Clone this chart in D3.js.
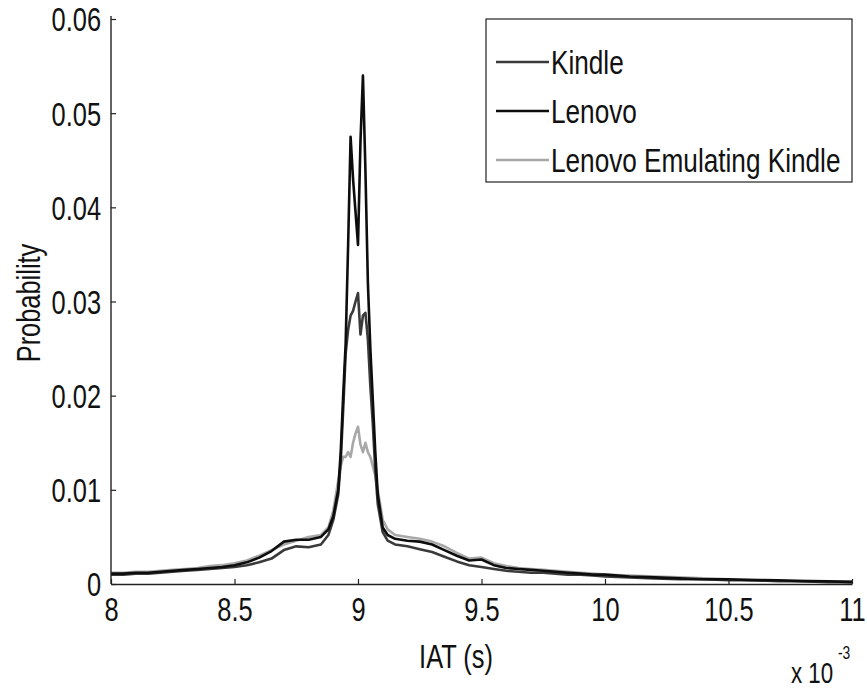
<!DOCTYPE html>
<html>
<head>
<meta charset="utf-8">
<script src="https://cdn.jsdelivr.net/npm/d3@7"></script>
<style>
  html, body { margin: 0; padding: 0; background: #fff; }
  svg text { font-family: "Liberation Sans", Arial, sans-serif; fill: #111; }
</style>
</head>
<body>
<svg id="chart" width="867" height="690"></svg>
<script>
// IAT in units of 1e-3 s
const iat = [8.00,8.05,8.10,8.15,8.20,8.25,8.30,8.35,8.40,8.45,8.50,8.55,8.60,8.65,8.70,8.75,8.80,8.85,8.88,
  8.90,8.92,8.93,8.94,8.95,8.96,8.97,8.98,8.99,9.00,9.01,9.02,9.03,9.04,9.05,9.06,9.07,9.08,9.10,9.12,
  9.15,9.20,9.25,9.30,9.35,9.40,9.45,9.50,9.55,9.60,9.65,9.70,9.75,9.80,9.85,9.90,9.95,10.00,
  10.10,10.20,10.30,10.40,10.50,10.60,10.70,10.80,10.90,11.00];

const kindle = [0.0010,0.0010,0.0011,0.0011,0.0012,0.0013,0.0014,0.0015,0.0016,0.0017,0.0018,0.0020,0.0023,0.0027,0.0036,0.0040,0.0039,0.0042,0.0052,
  0.0068,0.0095,0.0130,0.0185,0.0245,0.0270,0.0285,0.0290,0.0300,0.0309,0.0265,0.0285,0.0288,0.0260,0.0210,0.0170,0.0120,0.0085,0.0055,0.0046,
  0.0042,0.0040,0.0037,0.0034,0.0029,0.0024,0.0020,0.0018,0.0016,0.0014,0.0013,0.0012,0.0012,0.0011,0.0010,0.0010,0.0009,0.0008,
  0.0007,0.0006,0.0005,0.0005,0.0004,0.0004,0.0003,0.0003,0.0002,0.0002];

const lenovo = [0.0011,0.0011,0.0012,0.0012,0.0013,0.0014,0.0015,0.0016,0.0017,0.0018,0.0020,0.0023,0.0028,0.0035,0.0045,0.0047,0.0047,0.0050,0.0058,
  0.0072,0.0100,0.0140,0.0200,0.0255,0.0360,0.0475,0.0430,0.0395,0.0360,0.0470,0.0540,0.0440,0.0320,0.0250,0.0195,0.0140,0.0095,0.0060,0.0052,
  0.0048,0.0046,0.0045,0.0042,0.0036,0.0030,0.0025,0.0026,0.0020,0.0017,0.0016,0.0015,0.0014,0.0013,0.0012,0.0011,0.0010,0.0010,
  0.0008,0.0007,0.0006,0.0005,0.0005,0.0004,0.0004,0.0003,0.0003,0.0002];

const emulating = [0.0012,0.0012,0.0013,0.0013,0.0014,0.0015,0.0016,0.0017,0.0019,0.0020,0.0022,0.0025,0.0030,0.0036,0.0042,0.0046,0.0050,0.0052,0.0060,
  0.0078,0.0110,0.0125,0.0135,0.0135,0.0140,0.0135,0.0150,0.0160,0.0167,0.0148,0.0140,0.0150,0.0140,0.0135,0.0125,0.0115,0.0100,0.0068,0.0058,
  0.0052,0.0050,0.0048,0.0045,0.0040,0.0033,0.0027,0.0028,0.0022,0.0019,0.0017,0.0016,0.0015,0.0014,0.0013,0.0012,0.0011,0.0010,
  0.0009,0.0008,0.0007,0.0006,0.0005,0.0005,0.0004,0.0004,0.0003,0.0003];

const seriesNames = ["Kindle", "Lenovo", "Lenovo Emulating Kindle"];
const seriesColors = ["#3a3a3a", "#0d0d0d", "#a8a8a8"];
const xTicks = [8, 8.5, 9, 9.5, 10, 10.5, 11];
const yTicks = [0, 0.01, 0.02, 0.03, 0.04, 0.05, 0.06];

const svg = d3.select("#chart");
const pLeft = 111, pRight = 852, pTop = 19, pBottom = 584;
const sx = 0.77;  // horizontal text compression
const fs = 33;

const x = d3.scaleLinear().domain([8, 11]).range([pLeft, pRight]);
const y = d3.scaleLinear().domain([0, 0.06]).range([pBottom, pTop]);

// curves (light first so dark lines sit on top)
const allSeries = [kindle, lenovo, emulating];
const drawOrder = [2, 0, 1];
const line = d3.line().x((d, i) => x(iat[i])).y(d => y(d));
drawOrder.forEach(k => {
  svg.append("path")
    .datum(allSeries[k])
    .attr("fill", "none")
    .attr("stroke", seriesColors[k])
    .attr("stroke-width", 2.6)
    .attr("stroke-linejoin", "round")
    .attr("d", line);
});

// axes
const fmt = d3.format("~g");
const gx = svg.append("g").attr("transform", `translate(0,${pBottom})`)
  .call(d3.axisBottom(x).tickValues(xTicks).tickFormat(fmt).tickSizeInner(-5).tickSizeOuter(0).tickPadding(14));
const gy = svg.append("g").attr("transform", `translate(${pLeft},0)`)
  .call(d3.axisLeft(y).tickValues(yTicks).tickFormat(fmt).tickSizeInner(-5).tickSizeOuter(0).tickPadding(10));

[gx, gy].forEach(g => {
  g.select(".domain").attr("stroke", "#222").attr("stroke-width", 1.4);
  g.selectAll(".tick line").attr("stroke", "#222").attr("stroke-width", 1.2);
  g.selectAll(".tick text").attr("font-size", fs).attr("fill", "#111")
    .style("font-family", '"Liberation Sans", Arial, sans-serif');
});
gx.selectAll(".tick text").attr("transform", `scale(${sx},1)`);
gy.selectAll(".tick text").attr("x", -10 / sx).attr("dy", "0.36em").attr("transform", `scale(${sx},1)`);
// extend y axis slightly above top tick
gy.select(".domain").attr("d", `M0,${pBottom}V${pTop - 3}`);

// axis titles
svg.append("text")
  .attr("transform", `translate(456,668) scale(${sx},1)`)
  .attr("text-anchor", "middle").attr("font-size", fs)
  .text("IAT (s)");
svg.append("text")
  .attr("transform", `translate(40,303) rotate(-90) scale(${sx},1)`)
  .attr("text-anchor", "middle").attr("font-size", fs)
  .text("Probability");

// exponent label
svg.append("text").attr("transform", `translate(791,683) scale(${sx},1)`).attr("font-size", 29).text("x 10");
svg.append("text").attr("transform", `translate(838,659) scale(${sx},1)`).attr("font-size", 18).text("-3");

// legend
const lg = svg.append("g");
lg.append("rect").attr("x", 486).attr("y", 19).attr("width", 366).attr("height", 163)
  .attr("fill", "#fff").attr("stroke", "#222").attr("stroke-width", 1.2);
const rowsY = [62, 111, 160];
seriesNames.forEach((name, i) => {
  lg.append("line").attr("x1", 496).attr("x2", 549).attr("y1", rowsY[i]).attr("y2", rowsY[i])
    .attr("stroke", seriesColors[i]).attr("stroke-width", 2.6);
  lg.append("text").attr("transform", `translate(551,${rowsY[i]}) scale(${sx},1)`)
    .attr("dy", "0.36em").attr("font-size", 34).text(name);
});
</script>
</body>
</html>
